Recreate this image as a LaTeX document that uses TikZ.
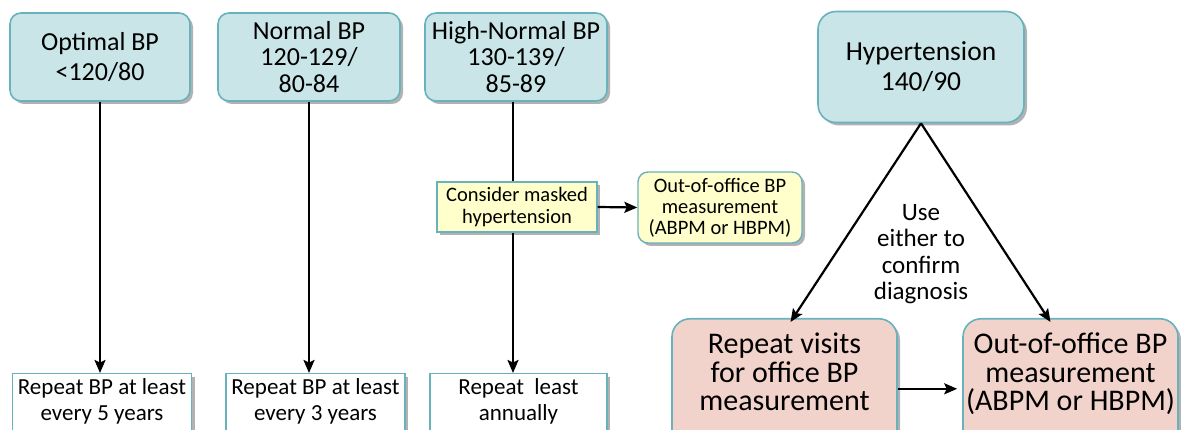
\documentclass[tikz,border=0pt]{standalone}
\usepackage{fontspec}
\setmainfont{Carlito}
\usetikzlibrary{shadows,arrows.meta}
\definecolor{tealline}{RGB}{104,178,190}
\definecolor{tealfill}{RGB}{201,229,232}
\definecolor{pinkfill}{RGB}{242,211,204}
\definecolor{yelfill}{RGB}{255,255,204}
\tikzset{
  shad/.style={drop shadow={shadow xshift=3pt,shadow yshift=-3pt,opacity=0.3,fill=black}},
  topbox/.style={draw=tealline,line width=1.6pt,fill=tealfill,rounded corners=11pt,shad,align=center,inner sep=0pt},
  botbox/.style={draw=tealline,line width=1.4pt,fill=white,shad,align=center,inner sep=0pt},
  yelbox/.style={draw=tealline,line width=1.4pt,fill=yelfill,shad,align=center,inner sep=0pt},
  pinkbox/.style={draw=tealline,line width=1.6pt,fill=pinkfill,rounded corners=18pt,shad,align=center,inner sep=0pt},
  arr/.style={line width=2.2pt,-{Stealth[length=13pt,width=11pt,inset=2.5pt]}},
}
\begin{document}
\begin{tikzpicture}[x=1pt,y=-1pt]
\useasboundingbox (0,0) rectangle (1181,430);
\clip (0,0) rectangle (1181,430);
% top boxes
\node[topbox,minimum width=180pt,minimum height=88pt,font=\fontsize{26}{30}\selectfont] (opt) at (100,57)
  {Optimal BP\\<120/80};
\node[topbox,minimum width=182pt,minimum height=88pt,font=\fontsize{26}{26.5}\selectfont] (nor) at (309,57)
  {Normal BP\\120-129/\\80-84};
\node[topbox,minimum width=182pt,minimum height=88pt,font=\fontsize{26}{26.5}\selectfont] (hin) at (516,57)
  {High-Normal BP\\130-139/\\85-89};
\node[topbox,rounded corners=18pt,minimum width=206pt,minimum height=111pt,font=\fontsize{27.5}{30}\selectfont] (hyp) at (921,67)
  {Hypertension\\140/90};
% bottom boxes
\node[botbox,minimum width=179pt,minimum height=90pt,anchor=north,font=\fontsize{23}{26}\selectfont] (r1) at (102,373)
  {Repeat BP at least\\every 5 years\\[12pt]};
\node[botbox,minimum width=179pt,minimum height=90pt,anchor=north,font=\fontsize{23}{26}\selectfont] (r2) at (315.5,373)
  {Repeat BP at least\\every 3 years\\[12pt]};
\node[botbox,minimum width=177pt,minimum height=90pt,anchor=north,font=\fontsize{23}{26}\selectfont] (r3) at (518.5,373)
  {Repeat\ \ least\\annually\\[12pt]};
% vertical arrows
\draw[arr] (opt.south) -- (opt.south |- r1.north);
\draw[arr] (nor.south) -- (nor.south |- r2.north);
\draw[arr] ([xshift=-3pt]hin.south) -- ([xshift=-3pt]hin.south |- r3.north);
% middle boxes
\node[yelbox,minimum width=160pt,minimum height=50pt,font=\fontsize{20.5}{21.5}\selectfont] (cons) at (517,207)
  {Consider masked\\hypertension};
\node[yelbox,rounded corners=10pt,minimum width=164pt,minimum height=71pt,font=\fontsize{20.5}{21}\selectfont] (oob) at (720,207.5)
  {Out-of-office BP\\measurement\\(ABPM or HBPM)};
\draw[arr] (cons.east) -- (oob.west);
% pink boxes
\node[pinkbox,minimum width=225pt,minimum height=140pt,anchor=north,font=\fontsize{30}{28.5}\selectfont] (rv) at (784.5,318)
  {Repeat visits\\for office BP\\measurement\\[5pt]};
\node[pinkbox,minimum width=215pt,minimum height=140pt,anchor=north,font=\fontsize{30}{28.5}\selectfont] (oob2) at (1070.5,318)
  {Out-of-office BP\\measurement\\(ABPM or HBPM)\\[5pt]};
\draw[arr] (hyp.south) -- ([xshift=6pt,yshift=-4pt]rv.north);
\draw[arr] (hyp.south) -- ([xshift=-20pt,yshift=-4pt]oob2.north);
\draw[arr,shorten >=5pt] (rv.east) -- (rv.east -| oob2.west);
\node[align=center,font=\fontsize{25}{26.5}\selectfont] (use) at (921,254)
  {Use\\either to\\confirm\\diagnosis};
\end{tikzpicture}
\end{document}
